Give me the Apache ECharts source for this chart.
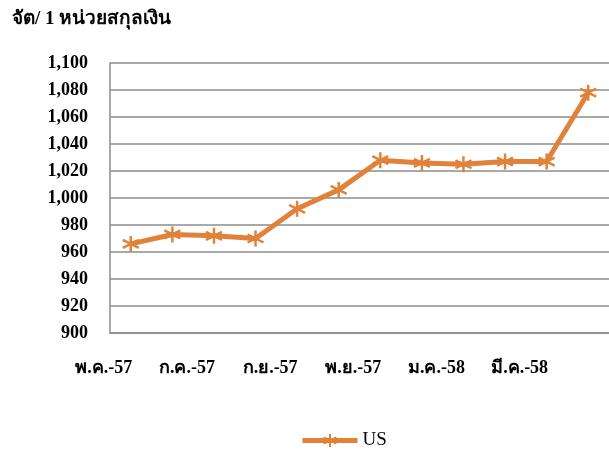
<!DOCTYPE html>
<html><head><meta charset="utf-8">
<script src="https://cdn.jsdelivr.net/npm/echarts@6/dist/echarts.min.js"></script>
<style>html,body{margin:0;padding:0;background:#fff}#c{width:609px;height:454px}</style>
</head><body><div id="c"></div>
<script>
const categories = ['พ.ค.-57','มิ.ย.-57','ก.ค.-57','ส.ค.-57','ก.ย.-57','ต.ค.-57','พ.ย.-57','ธ.ค.-57','ม.ค.-58','ก.พ.-58','มี.ค.-58','เม.ย.-58'];
const usValues = [966, 973, 972, 970, 992, 1006, 1028, 1026, 1025, 1027, 1027, 1078];
const yTicks = {min: 900, max: 1100, step: 20};
const title = 'จัต/ 1 หน่วยสกุลเงิน';
const seriesName = 'US';

const orange = '#E0823A';
const star = 'path://M0,-10 L0,10 M-8.7,-5 L8.7,5 M-8.7,5 L8.7,-5';
const chart = echarts.init(document.getElementById('c'));
chart.setOption({
  animation: false,
  title: {text: title, left: 7, top: 5, textStyle: {fontFamily: 'Liberation Serif', fontSize: 19, fontWeight: 'bold', color: '#000'}},
  grid: {left: 110, right: -4, top: 63, bottom: 121},
  legend: {data: [seriesName], bottom: -1, left: 295, itemWidth: 55, itemHeight: 16, itemGap: 5,
    lineStyle: {width: 5},
    textStyle: {fontFamily: 'Liberation Serif', fontSize: 19, color: '#000'}},
  xAxis: {type: 'category', data: categories, boundaryGap: true,
    axisLine: {lineStyle: {color: '#8c8c8c', width: 1.5}},
    axisTick: {interval: 1, length: 5, lineStyle: {color: '#8c8c8c', width: 1.5}},
    axisLabel: {interval: 1, margin: 26, padding: [0, 54, 0, 0], fontFamily: 'Liberation Serif', fontSize: 18, fontWeight: 'bold', color: '#000'}},
  yAxis: {type: 'value', min: yTicks.min, max: yTicks.max, interval: yTicks.step,
    axisLine: {show: true, lineStyle: {color: '#8c8c8c', width: 1.5}},
    axisTick: {show: false},
    splitLine: {lineStyle: {color: '#8c8c8c', width: 1.5}},
    axisLabel: {margin: 22, fontFamily: 'Liberation Serif', fontSize: 18, fontWeight: 'bold', color: '#000',
      formatter: v => v.toLocaleString('en-US')}},
  series: [{name: seriesName, type: 'line', data: usValues, symbol: star, symbolSize: 16,
    lineStyle: {color: orange, width: 5},
    itemStyle: {color: orange, borderColor: orange, borderWidth: 2.5}}]
});
</script></body></html>
